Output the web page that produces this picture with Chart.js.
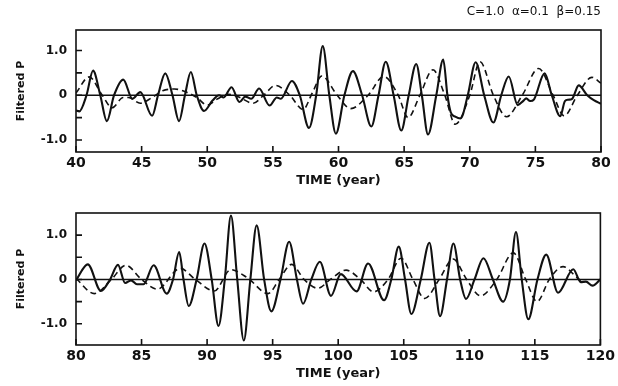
<!DOCTYPE html>
<html lang="en">
<head>
<meta charset="UTF-8">
<title>Filtered P</title>
<script src="https://cdn.jsdelivr.net/npm/chart.js@4"></script>
<style>
  body { margin: 0; background: #fff; width: 618px; height: 386px; overflow: hidden; }
  .panel { position: absolute; left: 0; width: 618px; height: 193px; }
  #top { top: 0; }
  #bottom { top: 193px; }
</style>
</head>
<body>
<div class="panel" id="top"><canvas id="chartTop" width="618" height="193"></canvas></div>
<div class="panel" id="bottom"><canvas id="chartBottom" width="618" height="193"></canvas></div>

<script>
  // --- top panel (years 40-80) ---
  const topSolidYears = [40.0, 40.25, 40.8, 41.3, 41.85, 42.35, 42.9, 43.6, 44.3, 44.9, 45.8, 46.25, 46.8, 47.35, 47.85,
    48.3, 48.75, 49.2, 49.75, 50.4, 50.9, 51.25, 51.85, 52.45, 52.9, 53.35, 53.95, 54.75, 55.3, 55.6, 56.45, 57.05,
    57.75, 58.3, 58.8, 59.3, 59.8, 60.45, 61.1, 61.8, 62.5, 63.05, 63.6, 64.2, 64.78, 65.35, 65.92, 66.35, 66.82,
    67.45, 67.98, 68.3, 68.55, 68.9, 69.3, 69.85, 70.45, 71.1, 71.8, 72.4, 72.97, 73.65, 74.1, 74.3, 74.6, 74.9,
    75.7, 76.25, 76.9, 77.25, 77.5, 77.8, 78.3, 78.95, 79.45, 80.0];
  const topSolidP = [-0.34, -0.36, 0, 0.55, 0, -0.58, 0, 0.35, -0.08, 0.07, -0.46, 0, 0.49, 0, -0.58,
    0, 0.52, 0, -0.35, -0.12, 0.0, -0.05, 0.18, -0.15, -0.03, -0.08, 0.15, -0.23, -0.05, -0.08, 0.32, 0,
    -0.73, 0, 1.1, 0, -0.86, 0, 0.54, 0, -0.7, 0, 0.75, 0, -0.79, 0, 0.7, 0, -0.88,
    0, 0.8, 0, -0.38, -0.48, -0.52, 0, 0.74, 0, -0.61, 0, 0.42, -0.22, -0.12, -0.07, -0.13, -0.09,
    0.49, 0, -0.47, -0.13, -0.1, -0.08, 0.22, 0.0, -0.11, -0.19];

  const topDashYears = [40.0, 41.0, 42.0, 42.75, 43.6, 44.0, 44.9, 45.8, 46.6, 47.5, 48.4, 49.2, 50.0, 50.8, 51.6,
    52.4, 53.5, 54.3, 55.2, 56.3, 57.3, 58.0, 58.73, 59.9, 60.93, 62.26, 63.45, 64.55, 65.3, 66.2, 67.2, 68.1,
    68.9, 70.0, 70.78, 71.8, 72.8, 74.0, 75.25, 76.35, 77.2, 78.2, 79.3, 80.0];
  const topDashP = [0.05, 0.41, 0, -0.28, -0.05, -0.05, -0.18, -0.05, 0.1, 0.14, 0.07, -0.05, -0.22, -0.08, 0.02,
    -0.04, -0.18, 0.0, 0.22, 0.0, -0.32, 0.05, 0.43, 0, -0.3, 0, 0.42, 0, -0.5, 0, 0.57, 0,
    -0.65, 0, 0.75, 0, -0.48, 0, 0.6, 0, -0.46, 0, 0.4, 0.27];

  // --- bottom panel (years 80-120) ---
  const botSolidYears = [80.0, 80.9, 81.9, 82.6, 83.2, 83.75, 84.2, 84.65, 85.15, 85.92, 86.92, 87.4, 87.87, 88.2,
    88.6, 89.2, 89.8, 90.35, 90.87, 91.35, 91.82, 92.3, 92.8, 93.3, 93.78, 94.35, 94.9, 95.6, 96.26, 96.85, 97.32,
    97.95, 98.6, 99.45, 100.2, 101.4, 102.28, 103.5, 104.05, 104.62, 105.1, 105.58, 106.3, 106.96, 107.35, 107.77,
    108.3, 108.79, 109.3, 109.75, 110.4, 111.08, 111.8, 112.58, 113.1, 113.56, 114.0, 114.5, 115.2, 115.87, 116.77,
    117.93, 118.5, 118.9, 119.4, 120.0];
  const botSolidP = [-0.02, 0.34, -0.26, 0, 0.33, -0.08, -0.02, -0.11, -0.11, 0.32, -0.32, 0, 0.62, 0,
    -0.6, 0, 0.81, 0, -1.05, 0, 1.44, 0, -1.38, 0, 1.22, 0, -0.72, 0, 0.85, 0, -0.55,
    0, 0.4, -0.37, 0.12, -0.27, 0.36, -0.47, 0, 0.74, 0, -0.78, 0, 0.83, 0, -0.83,
    0, 0.81, 0, -0.44, 0, 0.48, 0, -0.5, 0, 1.07, 0, -0.9, 0, 0.56, -0.3,
    0.23, -0.06, -0.05, -0.14, 0.0];

  const botDashYears = [80.0, 81.4, 82.7, 83.8, 85.0, 86.2, 87.95, 89.1, 90.55, 91.8, 93.1, 94.65, 95.5, 96.45,
    97.4, 98.45, 99.4, 100.6, 101.7, 102.7, 103.8, 104.8, 105.7, 106.6, 107.7, 108.77, 109.8, 110.85, 112.1,
    113.36, 114.3, 115.17, 116.1, 117.15, 118.3, 118.6];
  const botDashP = [0.02, -0.32, 0, 0.32, 0, -0.22, 0.25, 0, -0.26, 0.22, 0.03, -0.32, 0, 0.34,
    0, -0.2, 0, 0.21, 0, -0.28, 0, 0.48, 0, -0.43, 0, 0.46, 0, -0.37, 0,
    0.6, 0, -0.5, 0, 0.29, 0.02, -0.03];

  const topXTicks = [40, 45, 50, 55, 60, 65, 70, 75, 80];
  const botXTicks = [80, 85, 90, 95, 100, 105, 110, 115, 120];
  const yTicks = [-1, -0.5, 0, 0.5, 1];
  const yTickLabels = ['-1.0', '', '0', '', '1.0'];

  const ink = '#111';
  const family = "'DejaVu Sans', sans-serif";

  function toPoints(xs, ys) {
    return xs.map((x, i) => ({ x: x, y: ys[i] }));
  }

  // zero line under the curves, box and inward ticks on top
  const framePlugin = {
    id: 'frame',
    beforeDatasetsDraw(chart) {
      const { ctx, chartArea: a, scales: { y } } = chart;
      const y0 = y.getPixelForValue(0);
      ctx.save();
      ctx.strokeStyle = ink;
      ctx.lineWidth = 1.6;
      ctx.beginPath();
      ctx.moveTo(a.left, y0);
      ctx.lineTo(a.right, y0);
      ctx.stroke();
      ctx.restore();
    },
    afterDatasetsDraw(chart) {
      const { ctx, chartArea: a, scales: { x, y } } = chart;
      ctx.save();
      ctx.strokeStyle = ink;
      ctx.lineWidth = 1.6;
      ctx.strokeRect(a.left, a.top, a.right - a.left, a.bottom - a.top);
      ctx.beginPath();
      x.ticks.forEach(t => {
        const px = x.getPixelForValue(t.value);
        ctx.moveTo(px, a.bottom);
        ctx.lineTo(px, a.bottom - 6);
      });
      y.ticks.forEach(t => {
        const py = y.getPixelForValue(t.value);
        ctx.moveTo(a.left, py);
        ctx.lineTo(a.left + 6, py);
      });
      ctx.stroke();
      ctx.restore();
    }
  };

  function panel(canvasId, solid, dashed, xMin, xMax, xTicks, yMin, yMax, heading) {
    return new Chart(document.getElementById(canvasId), {
      type: 'line',
      data: {
        datasets: [{
          data: solid,
          borderColor: ink,
          borderWidth: 2.1,
          pointRadius: 0,
          fill: false,
          cubicInterpolationMode: 'monotone'
        }, {
          data: dashed,
          borderColor: ink,
          borderWidth: 1.6,
          borderDash: [6, 4],
          pointRadius: 0,
          fill: false,
          cubicInterpolationMode: 'monotone'
        }]
      },
      options: {
        responsive: false,
        animation: false,
        layout: { padding: { left: 0, right: 17, top: heading ? 0 : 20, bottom: 0 } },
        plugins: {
          legend: { display: false },
          tooltip: { enabled: false },
          title: {
            display: !!heading,
            text: heading || '',
            align: 'end',
            color: ink,
            font: { family: family, size: 12, weight: 'normal' },
            padding: { top: 5, bottom: 10.6 }
          }
        },
        scales: {
          x: {
            type: 'linear',
            min: xMin,
            max: xMax,
            afterBuildTicks: s => { s.ticks = xTicks.map(v => ({ value: v })); },
            afterFit: s => { s.height = 41; },
            grid: { display: false, drawTicks: false },
            border: { display: false },
            ticks: {
              color: ink,
              padding: 3,
              maxRotation: 0,
              font: { family: family, size: 14, weight: 'bold' },
              callback: v => String(v)
            },
            title: {
              display: true,
              text: 'TIME (year)',
              color: ink,
              font: { family: family, size: 13, weight: 'bold' },
              padding: { top: 0, bottom: 5 }
            }
          },
          y: {
            min: yMin,
            max: yMax,
            afterBuildTicks: s => { s.ticks = yTicks.map(v => ({ value: v })); },
            afterFit: s => { s.width = 76; },
            grid: { display: false, drawTicks: false },
            border: { display: false },
            ticks: {
              color: ink,
              padding: 9,
              font: { family: family, size: 12, weight: 'bold' },
              callback: v => yTickLabels[yTicks.indexOf(v)]
            },
            title: {
              display: true,
              text: 'Filtered P',
              color: ink,
              font: { family: family, size: 11, weight: 'bold' },
              padding: { top: 15, bottom: 0 }
            }
          }
        }
      },
      plugins: [framePlugin]
    });
  }

  panel('chartTop', toPoints(topSolidYears, topSolidP), toPoints(topDashYears, topDashP),
    40, 80, topXTicks, -1.27, 1.46, 'C=1.0  α=0.1  β=0.15');
  panel('chartBottom', toPoints(botSolidYears, botSolidP), toPoints(botDashYears, botDashP),
    80, 120, botXTicks, -1.48, 1.5, null);
</script>
</body>
</html>
